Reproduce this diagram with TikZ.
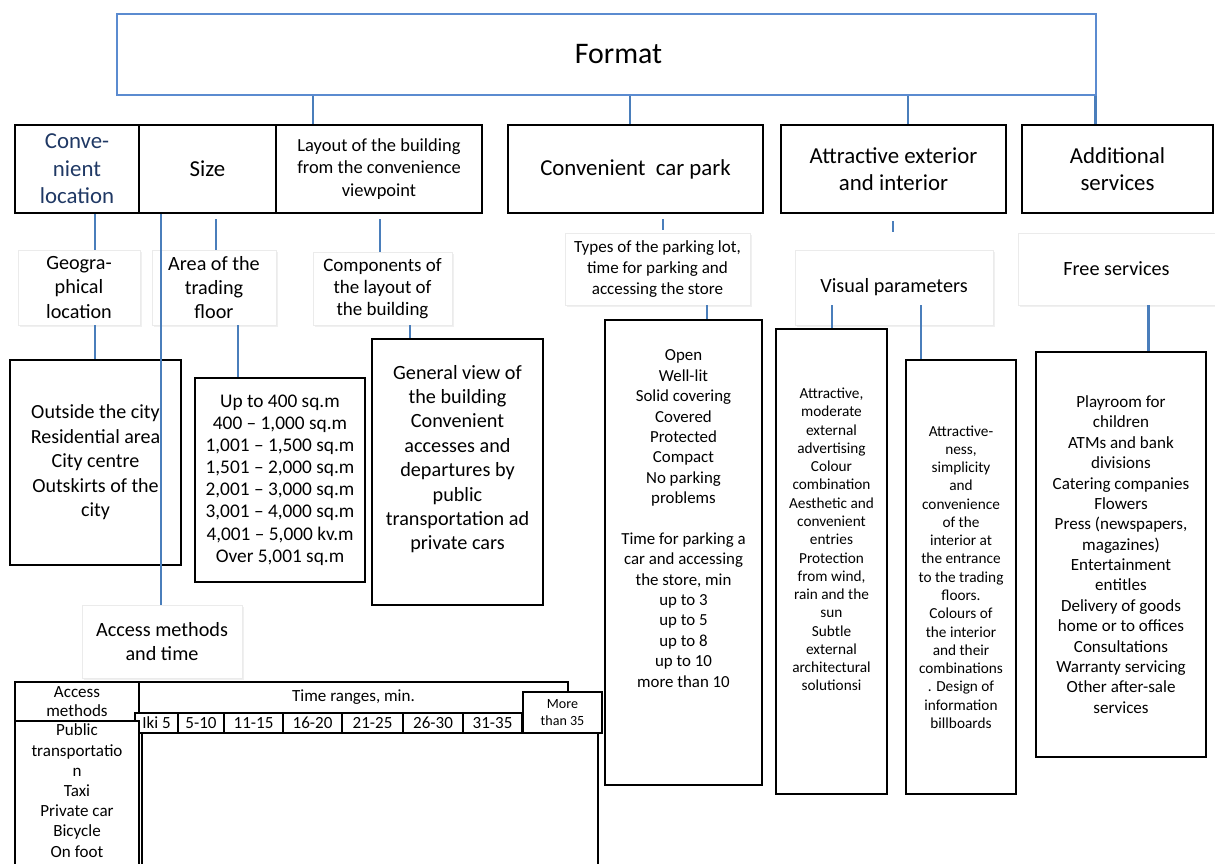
\documentclass[tikz,border=0pt]{standalone}
\usepackage{fontspec}
\setmainfont{Carlito}
\usetikzlibrary{shadows}
\definecolor{linkblue}{RGB}{74,126,187}
\definecolor{fmtblue}{RGB}{91,139,208}
\definecolor{navy}{RGB}{31,56,100}
\newcommand{\fs}[2]{\fontsize{#1}{#2}\selectfont}
\newcommand{\topcell}[4]{\parbox[c][#1][t]{#2}{\centering\vspace*{#3}#4}}

\begin{document}
\begin{tikzpicture}[x=0.02cm, y=-0.02cm]

\tikzset{box/.style = {draw, line width=1.6pt, align=center, inner sep=1pt}}
\tikzset{soft/.style = {draw=black!8, fill=white, align=center, inner sep=1pt,
  drop shadow={shadow xshift=1.2pt, shadow yshift=-1.2pt, opacity=.12}}}
\tikzset{cell/.style = {draw, fill=white, line width=1.3pt, align=center, inner sep=0pt, font=\fs{9.7}{11}}}
\tikzset{link/.style = {draw=linkblue, line width=1.7pt}}
\useasboundingbox (0,0) rectangle (1215,864);

%format
\node[draw=fmtblue, line width=0.9pt, minimum width=19.58cm, minimum height=1.62cm, font=\fs{17}{20}] (fmt) at (606.5,54.5) {\hspace*{0.24cm}Format\hspace*{-0.24cm}};

%first level
\node[box, minimum width=2.48cm, minimum height=1.76cm, font=\fs{13}{15.6}, text=navy] (loc) at (77,169) {Conve-\\nient\\location};
\node[box, minimum width=2.74cm, minimum height=1.76cm, font=\fs{13}{15.6}] (size) at (207.5,169) {Size};
\node[box, minimum width=4.12cm, minimum height=1.76cm, font=\fs{10.5}{12.6}] (layout) at (379,169) {Layout of the building\\from the convenience\\viewpoint};
\node[box, minimum width=5.1cm, minimum height=1.76cm, font=\fs{13}{15.6}] (park) at (635.5,169) {Convenient\ \ car park};
\node[box, minimum width=4.5cm, minimum height=1.76cm, font=\fs{13}{15.6}] (ext) at (893.5,169) {Attractive exterior\\and interior};
\node[box, minimum width=3.82cm, minimum height=1.76cm, font=\fs{13}{15.6}] (add) at (1117.5,169) {Additional\\services};

%second level
\node[soft, minimum width=2.44cm, minimum height=1.5cm, font=\fs{11.5}{13.8}] (geo) at (79,287.5) {Geogra-\\phical\\location};
\node[soft, minimum width=2.48cm, minimum height=1.5cm, font=\fs{11.5}{13.8}] (area) at (214,287.5) {Area of the\\trading\\floor};
\node[soft, minimum width=2.78cm, minimum height=1.46cm, font=\fs{10.8}{12.4}] (comp) at (382.5,288.5) {Components of\\the layout of\\the building};
\node[soft, minimum width=3.7cm, minimum height=1.44cm, font=\fs{9.7}{12}] (types) at (657.5,269) {Types of the parking lot,\\time for parking and\\accessing the store};
\node[soft, minimum width=3.96cm, minimum height=1.5cm, font=\fs{11.5}{13.8}] (vis) at (894,287.5) {Visual parameters};
\node[soft, minimum width=3.94cm, minimum height=1.44cm, font=\fs{11.5}{13.8}] (free) at (1116.5,269) {Free services};
\node[soft, minimum width=3.2cm, minimum height=1.46cm, font=\fs{11.5}{13.8}] (access) at (162,641.5) {Access methods\\and time};

%third level
\node[box, minimum width=3.42cm, minimum height=4.1cm, font=\fs{11.4}{13.9}] (city) at (95.5,462.5) {Outside the city\\Residential area\\City centre\\Outskirts of the\\city};
\node[box, minimum width=3.4cm, minimum height=4.08cm, font=\fs{11}{12.6}] (sqm) at (280,480) {Up to 400 sq.m\\400 – 1,000 sq.m\\1,001 – 1,500 sq.m\\1,501 – 2,000 sq.m\\2,001 – 3,000 sq.m\\3,001 – 4,000 sq.m\\4,001 – 5,000 kv.m\\Over 5,001 sq.m};
\node[box, inner sep=0pt, font=\fs{11.5}{13.9}] (view) at (457.5,472) {\topcell{5.32cm}{3.42cm}{0.52cm}{General view of\\the building\\Convenient\\accesses and\\departures by\\public\\transportation ad\\private cars}};
\node[box, inner sep=0pt, font=\fs{9.6}{11.6}] (open) at (683.5,552.5) {\topcell{9.3cm}{3.14cm}{0.6cm}{Open\\Well-lit\\Solid covering\\Covered\\Protected\\Compact\\No parking\\problems\\[11.6pt]Time for parking a\\car and accessing\\the store, min\\up to 3\\up to 5\\up to 8\\up to 10\\more than 10}};
\node[box, inner sep=0pt, font=\fs{8.7}{10.4}] (moder) at (831.5,561.5) {\topcell{9.3cm}{2.22cm}{1.18cm}{Attractive,\\moderate\\external\\advertising\\Colour\\combination\\Aesthetic and\\convenient\\entries\\Protection\\from wind,\\rain and the\\sun\\Subtle\\external\\architectural\\solutionsi}};
\node[box, minimum width=2.2cm, minimum height=8.68cm, font=\fs{8.7}{10.4}] (attr) at (961,577) {Attractive-\\ness,\\simplicity\\and\\convenience\\of the\\interior at\\the entrance\\to the trading\\floors.\\Colours of\\the interior\\and their\\combinations\\. Design of\\information\\billboards};
\node[box, minimum width=3.4cm, minimum height=8.1cm, font=\fs{9.7}{11.6}] (play) at (1121,554.5) {Playroom for\\children\\ATMs and bank\\divisions\\Catering companies\\Flowers\\Press (newspapers,\\magazines)\\Entertainment\\entitles\\Delivery of goods\\home or to offices\\Consultations\\Warranty servicing\\Other after-sale\\services};

%table
\node[cell, minimum width=9.12cm, minimum height=2.94cm] (body) at (370,806.5) {};
\node[cell, minimum width=2.48cm, minimum height=0.78cm] (acc) at (77,701.5) {Access\\methods};
\node[cell, minimum width=8.58cm, minimum height=0.62cm] (ranges) at (353.5,697.5) {Time ranges, min.};
\foreach \xa/\xb/\lab [count=\i] in {135/178/Iki 5, 178/224/5-10, 224/283/11-15, 283/342/16-20, 342/403/21-25, 403/463/26-30, 463/522/31-35}{
  \pgfmathsetmacro\w{(\xb-\xa)*0.02}
  \node[cell, minimum width=\w cm, minimum height=0.4cm] (r\i) at ({(\xa+\xb)/2},723) {\lab};
}
\node[cell, minimum width=1.58cm, minimum height=0.82cm, font=\fs{8}{9.6}] (more) at (562.5,712.5) {More\\than 35};
\node[cell, font=\fs{9.7}{11.5}] (mlist) at (77,796) {\topcell{3cm}{2.48cm}{0.06cm}{Public\\transportatio\\n\\Taxi\\Private car\\Bicycle\\On foot}};

%links
\draw[link] (fmt.south -| 313,0) -- (layout.north -| 313,0);
\draw[link] (fmt.south -| 630,0) -- (park.north -| 630,0);
\draw[link] (fmt.south -| 908,0) -- (ext.north -| 908,0);
\draw[link] (fmt.south -| 1095,0) -- (add.north -| 1095,0);
\draw[link] (loc.south -| 95,0) -- (geo.north -| 95,0);
\draw[link, shorten <=0.1cm] (size.south -| 216,0) -- (area.north -| 216,0);
\draw[link, shorten <=0.1cm] (layout.south -| 380,0) -- (comp.north -| 380,0);
\draw[link, shorten <=0.1cm, shorten >=0.06cm] (park.south -| 663,0) -- (types.north -| 663,0);
\draw[link, shorten <=0.14cm, shorten >=0.36cm] (ext.south -| 893,0) -- (vis.north -| 893,0);
\draw[link] (size.south -| 161,0) -- (access.north -| 161,0);
\draw[link] (geo.south -| 95,0) -- (city.north -| 95,0);
\draw[link] (area.south -| 238,0) -- (sqm.north -| 238,0);
\draw[link] (comp.south -| 410,0) -- (view.north -| 410,0);
\draw[link] (types.south -| 707,0) -- (open.north -| 707,0);
\draw[link, shorten <=-0.4cm] (vis.south -| 832,0) -- (moder.north -| 832,0);
\draw[link, shorten <=-0.4cm] (vis.south -| 921,0) -- (attr.north -| 921,0);
\draw[link] (free.south -| 1148,0) -- (play.north -| 1148,0);

\end{tikzpicture}
\end{document}
